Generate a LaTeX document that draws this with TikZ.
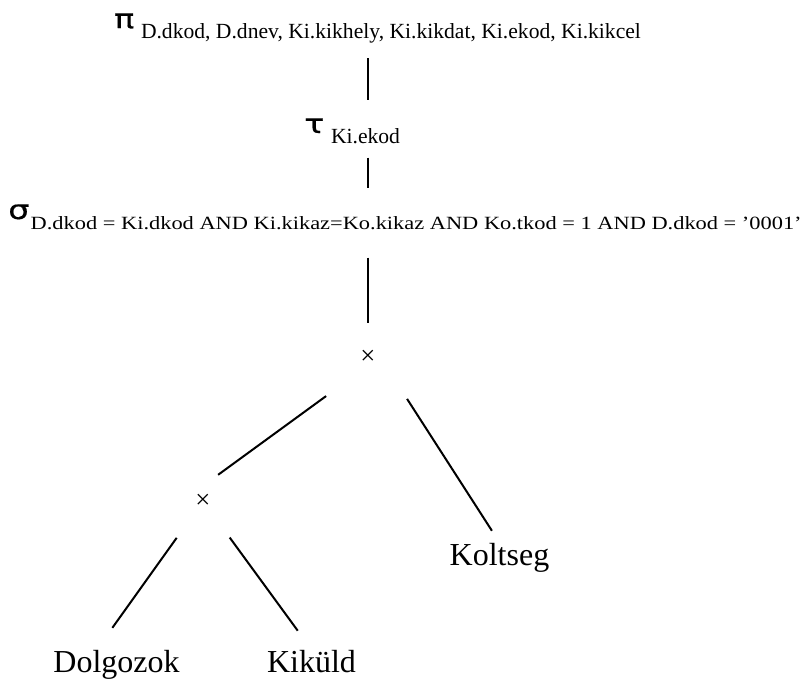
\documentclass[tikz,border=0pt]{standalone}
\usepackage{fontspec}
\setmainfont{Liberation Serif}
\newfontfamily\greekfont{DejaVu Sans}[FakeStretch=1.25, FakeBold=0.6]
\newfontfamily\widefont{Liberation Serif}[FakeStretch=1.2]

% operator with its lowered subscript
\newcommand{\oper}[3]{{\greekfont\fontsize{20}{22}\selectfont #1}\hspace{#2}\raisebox{-7.5pt}{#3}}

\begin{document}
\begin{tikzpicture}[x=0.75pt,y=-0.75pt]
      \tikzstyle{op}=[inner sep=0pt, anchor=base west, font=\fontsize{16.2}{18}\selectfont]
      \tikzstyle{cross}=[circle, inner sep=0pt, font=\fontsize{20}{22}\selectfont]
      \tikzstyle{rel}=[inner sep=0pt, anchor=base, font=\fontsize{24}{28}\selectfont]
      \tikzstyle{connect}=[line width=1.5pt]

      \useasboundingbox (0,0) rectangle (806,678);

      \node[op] (pi) at (114,28) {\oper{π}{5pt}{D.dkod, D.dnev, Ki.kikhely, Ki.kikdat, Ki.ekod, Ki.kikcel}};
      \node[op] (tau) at (304,133) {\oper{τ}{5pt}{Ki.ekod}};
      \node[op] (sigma) at (8,219) {\oper{σ}{1pt}{\widefont\fontsize{14}{16}\selectfont D.dkod = Ki.dkod AND Ki.kikaz=Ko.kikaz AND Ko.tkod = 1 AND D.dkod = ’0001’}};

      \node[cross, minimum size=85.5pt] (top) at (368,357) {×};
      \node[cross, minimum size=45pt] (bottom) at (203,501) {×};

      \node[rel] (dolgozok) at (116.5,672) {Dolgozok};
      \node[rel] (kikuld) at (311.5,672) {Kiküld};
      \node[rel] (koltseg) at (499.5,565) {Koltseg};

      \path (pi.south -| top) edge [connect, shorten <=11.5pt, shorten >=13.4pt] (tau.north -| top)
            (tau.south -| top) edge [connect, shorten <=10.5pt, shorten >=12.4pt] (sigma.north -| top)
            (sigma.south -| top) edge [connect, shorten <=21pt, shorten >=25.5pt] (top.center);

      \path (top.223) edge [connect] (bottom.60)
            (top.-47) edge [connect, shorten >=10.5pt] (koltseg.north);

      \path (bottom) edge [connect, shorten <=11.25pt, shorten >=20pt] (dolgozok.143)
            (bottom) edge [connect, shorten <=11.25pt, shorten >=17.5pt] (kikuld.north);
    \end{tikzpicture}
\end{document}
